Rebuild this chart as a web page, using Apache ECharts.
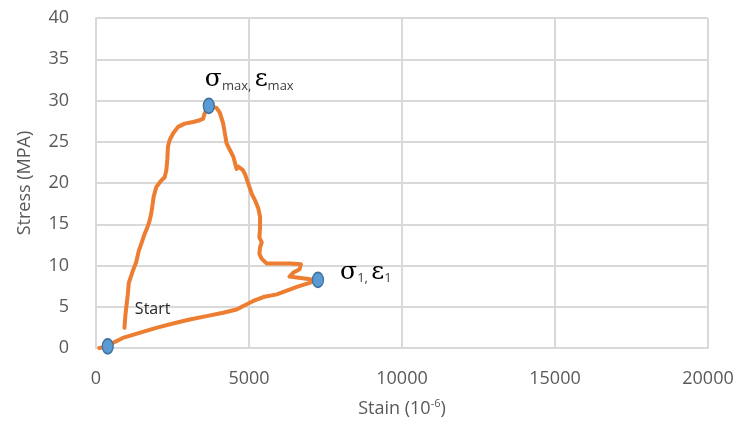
<!DOCTYPE html>
<html><head><meta charset="utf-8">
<script src="https://cdn.jsdelivr.net/npm/echarts@6/dist/echarts.min.js"></script>
<style>html,body{margin:0;padding:0;background:#fff}#c{width:740px;height:425px}</style>
</head><body><div id="c"></div>
<script>
// Loading branch (start -> peak)
const loadStrain = [930, 963, 1039, 1072, 1203, 1313, 1400, 1477, 1586, 1696, 1750, 1805, 1838, 1882, 1969, 2133, 2243, 2297, 2330, 2352, 2407, 2517, 2681, 2900, 3173, 3392, 3501, 3556, 3687];
const loadStress = [2.44, 4.07, 6.5, 7.9, 9.35, 10.4, 11.8, 12.6, 13.8, 14.8, 15.4, 16.3, 17.1, 18.3, 19.5, 20.3, 20.7, 21.5, 22.8, 24.4, 25.2, 26.0, 26.8, 27.2, 27.4, 27.6, 27.8, 28.5, 29.35];
// Softening branch (peak -> sigma1)
const softStrain = [3939, 4048, 4157, 4212, 4267, 4376, 4486, 4595, 4650, 4792, 4868, 4978, 5087, 5197, 5306, 5361, 5361, 5339, 5416, 5361, 5339, 5416, 5580, 5908, 6346, 6696, 6652, 6455, 6324, 6565, 7002, 7253];
const softStress = [29.1, 28.5, 27.2, 26.0, 24.8, 24.0, 23.2, 21.7, 22.0, 21.6, 21.1, 19.9, 18.7, 17.9, 16.9, 15.9, 14.6, 13.4, 12.8, 12.2, 11.4, 10.8, 10.24, 10.24, 10.24, 10.16, 9.55, 9.15, 8.66, 8.54, 8.33, 8.25];
// Unloading branch (sigma1 -> origin)
const unloadStrain = [7002, 6565, 6346, 5908, 5470, 5142, 4814, 4595, 4157, 3610, 3063, 2516, 1969, 1422, 875, 547, 383, 109];
const unloadStress = [7.93, 7.4, 7.1, 6.5, 6.18, 5.7, 5.08, 4.67, 4.27, 3.86, 3.46, 2.97, 2.44, 1.83, 1.22, 0.61, 0.2, 0.0];
// Marked points: start, peak, sigma1
const pointStrain = [383, 3687, 7253];
const pointStress = [0.2, 29.35, 8.25];
const xTicks = [0, 5000, 10000, 15000, 20000];
const yTicks = [0, 5, 10, 15, 20, 25, 30, 35, 40];

const curve = [];
[[loadStrain, loadStress], [softStrain, softStress], [unloadStrain, unloadStress]].forEach(([xs, ys]) => {
  xs.forEach((x, i) => curve.push([x, ys[i]]));
});

const font = '"Open Sans", "Noto Sans", sans-serif';
const serif = '"DejaVu Serif", "Liberation Serif", serif';
const big = {fontFamily: serif, fontSize: 25, color: '#000', lineHeight: 26, verticalAlign: 'bottom'};
const sub = {fontFamily: font, fontSize: 13, color: '#404040', lineHeight: 14, verticalAlign: 'bottom'};

const pts = pointStrain.map((x, i) => ({value: [x, pointStress[i]]}));
pts[0].label = {show: true, position: 'right', offset: [16, -37], formatter: 'Start', fontFamily: font, fontSize: 16, color: '#262626'};
pts[1].label = {show: true, position: 'top', align: 'left', offset: [-4, 0], formatter: '{b|σ}{s|max,} {b|ε}{s|max}', rich: {b: big, s: sub}};
pts[2].label = {show: true, position: 'right', offset: [11, -8], formatter: '{b|σ}{s|1,} {b|ε}{s|1}', rich: {b: big, s: sub}};

const chart = echarts.init(document.getElementById('c'), null, {renderer: 'canvas'});
chart.setOption({
  animation: false,
  grid: {left: 96, right: 32, top: 18, bottom: 77, containLabel: false},
  xAxis: {
    type: 'value', min: xTicks[0], max: xTicks[xTicks.length - 1], interval: xTicks[1] - xTicks[0],
    name: 'Stain (10{sup|-6})', nameLocation: 'middle', nameGap: 50,
    nameTextStyle: {fontFamily: font, fontSize: 18, color: '#595959', lineHeight: 22,
      rich: {sup: {fontFamily: font, fontSize: 11, color: '#595959', lineHeight: 10, verticalAlign: 'top'}}},
    axisLine: {show: true, lineStyle: {color: '#d9d9d9', width: 2}},
    axisTick: {show: false},
    splitLine: {show: true, lineStyle: {color: '#d9d9d9', width: 2}},
    axisLabel: {fontFamily: font, fontSize: 18, color: '#595959', margin: 22, formatter: v => String(v)}
  },
  yAxis: {
    type: 'value', min: yTicks[0], max: yTicks[yTicks.length - 1], interval: yTicks[1] - yTicks[0],
    name: 'Stress (MPA)', nameLocation: 'middle', nameGap: 62,
    nameTextStyle: {fontFamily: font, fontSize: 18, color: '#595959'},
    axisLine: {show: true, lineStyle: {color: '#d9d9d9', width: 2}},
    axisTick: {show: false},
    splitLine: {show: true, lineStyle: {color: '#d9d9d9', width: 2}},
    axisLabel: {fontFamily: font, fontSize: 18, color: '#595959', margin: 27, formatter: v => String(v)}
  },
  series: [
    {type: 'line', data: curve, showSymbol: false, symbol: 'none', smooth: false,
     lineStyle: {color: '#ED7D31', width: 4, join: 'round', cap: 'round'}, z: 2},
    {type: 'scatter', data: pts, symbol: 'circle', symbolSize: [11, 15],
     itemStyle: {color: '#5B9BD5', borderColor: '#41719C', borderWidth: 1.5, opacity: 1}, z: 3}
  ]
});
</script></body></html>
